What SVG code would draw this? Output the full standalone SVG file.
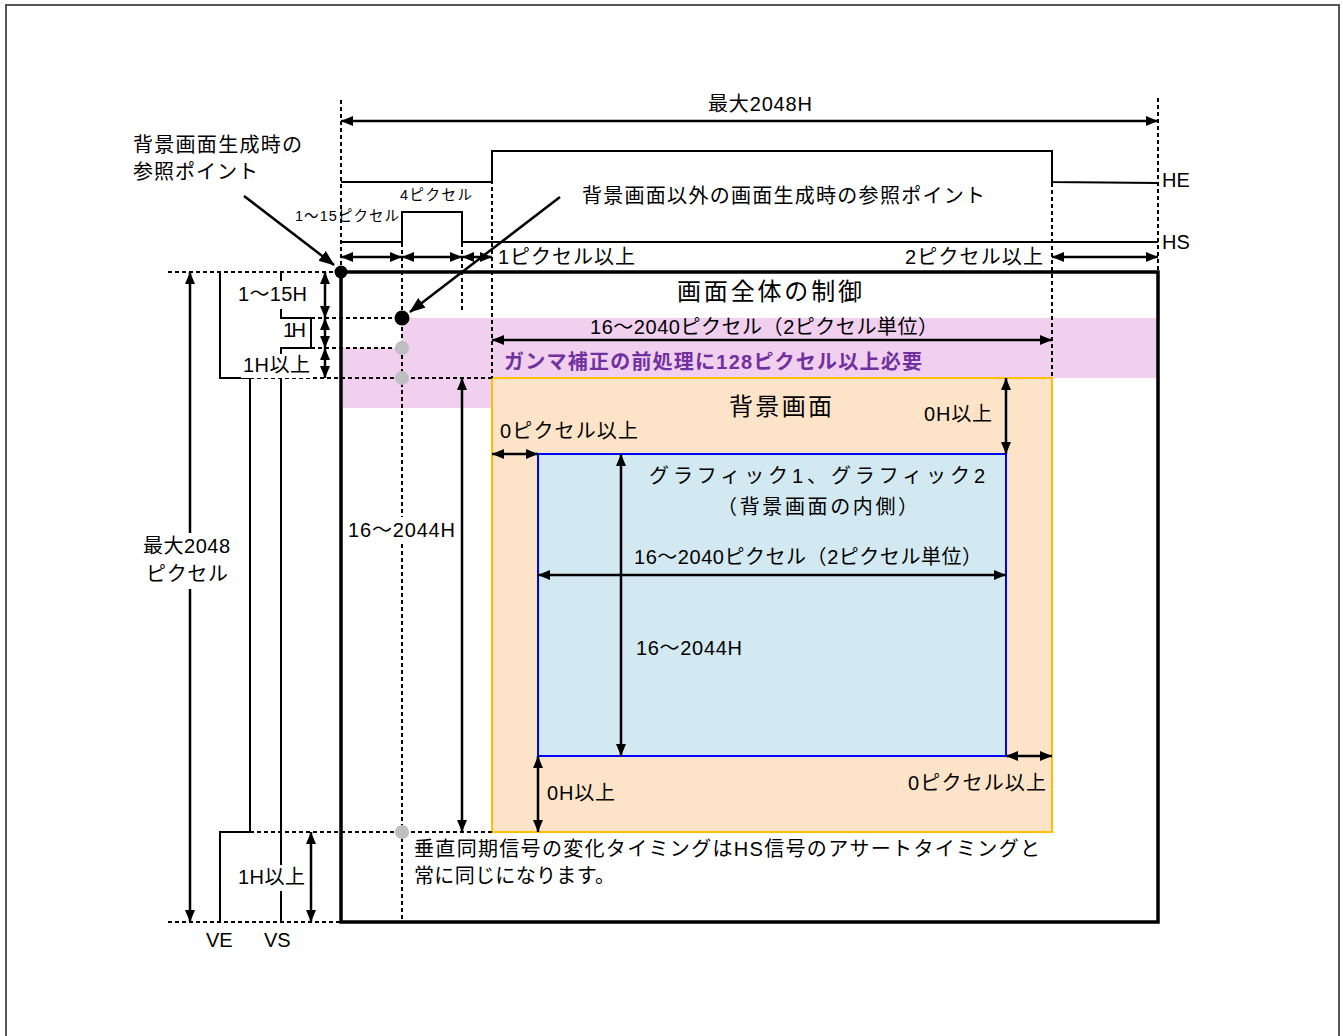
<svg xmlns="http://www.w3.org/2000/svg" width="1343" height="1036" viewBox="0 0 1343 1036">
<style>
text{font-family:"Liberation Sans","Noto Sans CJK JP",sans-serif;font-size:20px;fill:#000}
.s{font-size:14.5px}
.b{font-size:24px}
.g{font-weight:bold;fill:#7030A0;font-size:20px}
.w{stroke:#000;stroke-width:2;fill:none}
.d{stroke:#000;stroke-width:2;stroke-dasharray:4 3;fill:none}
.a{stroke:#000;stroke-width:2.5;fill:none;marker-start:url(#ah);marker-end:url(#ah)}
.p{stroke:#000;stroke-width:2.5;fill:none;marker-end:url(#ap)}
.bg{fill:#fff}
.gd{fill:#BFBFBF}
</style>
<defs>
<marker id="ah" markerUnits="userSpaceOnUse" markerWidth="13" markerHeight="11" refX="12" refY="5" orient="auto-start-reverse"><path d="M0,0 L12,5 L0,10 z" fill="#000"/></marker>
<marker id="ap" markerUnits="userSpaceOnUse" markerWidth="17" markerHeight="13" refX="15" refY="6" orient="auto"><path d="M0,0 L16,6 L0,12 z" fill="#000"/></marker>
</defs>
<rect x="6" y="5" width="1333" height="1040" fill="#fff" stroke="#555" stroke-width="2"/>

<g id="pink-band">
<path d="M402,318 H1158 V378 H492 V408 H343 V348 H402 Z" fill="#F0D0EE"/>
</g>
<g id="background-screen">
<rect x="492" y="378" width="560" height="454" fill="#FDE4C8" stroke="#FFC000" stroke-width="2"/>
</g>
<g id="graphics-screen">
<rect x="538" y="454" width="468" height="302" fill="#D3E9F2" stroke="#0000FF" stroke-width="2"/>
</g>

<g id="guides">
<path class="d" d="M341,100 V272 M1158,98 V272 M492,152 V378 M1052,183 V378 M402,243 V922 M462,243 V310"/>
<path class="d" d="M168,272 H341 M311,318 H402 M311,348 H402 M250,378 H492 M250,832 H492 M168,922 H341"/>
</g>

<g id="waveforms">
<polyline class="w" points="341,182 492,182 492,151 1052,151 1052,182 1158,183"/>
<polyline class="w" points="341,242 402,242 402,212 462,212 462,242 1158,242"/>
<polyline class="w" points="220,272 220,378 250,378 250,832 220,832 220,922"/>
<polyline class="w" points="281,272 281,318 311,318 311,348 281,348 281,922"/>
</g>

<g id="whole-screen">
<rect x="341" y="272" width="817" height="650" fill="none" stroke="#000" stroke-width="3.5"/>
</g>

<g id="connectors">
<line class="a" x1="341" y1="121" x2="1158" y2="121"/>
<line class="a" x1="341" y1="257" x2="402" y2="257"/>
<line class="a" x1="402" y1="257" x2="462" y2="257"/>
<line class="a" x1="462" y1="257" x2="492" y2="257"/>
<line class="a" x1="1052" y1="257" x2="1158" y2="257"/>
<line class="a" x1="492" y1="340" x2="1052" y2="340"/>
<line class="a" x1="325" y1="272" x2="325" y2="318"/>
<line class="a" x1="325" y1="318" x2="325" y2="348"/>
<line class="a" x1="325" y1="348" x2="325" y2="378"/>
<line class="a" x1="190" y1="272" x2="190" y2="922"/>
<line class="a" x1="311" y1="832" x2="311" y2="922"/>
<line class="a" x1="462" y1="378" x2="462" y2="832"/>
<line class="a" x1="1006" y1="378" x2="1006" y2="454"/>
<line class="a" x1="492" y1="454" x2="538" y2="454"/>
<line class="a" x1="621" y1="454" x2="621" y2="756"/>
<line class="a" x1="538" y1="575" x2="1006" y2="575"/>
<line class="a" x1="538" y1="756" x2="538" y2="832"/>
<line class="a" x1="1006" y1="756" x2="1052" y2="756"/>
<line class="p" x1="244" y1="196" x2="334" y2="265"/>
<line class="p" x1="560" y1="197" x2="410" y2="312"/>
</g>

<g id="points">
<circle cx="341" cy="272" r="6.5" fill="#000"/>
<circle cx="402" cy="318" r="7.5" fill="#000"/>
<circle class="gd" cx="402" cy="348" r="7"/>
<circle class="gd" cx="402" cy="378" r="7"/>
<circle class="gd" cx="402" cy="832" r="7"/>
</g>

<g id="labels">
<text x="708" y="111" textLength="104">最大2048H</text>
<text x="133" y="152" textLength="169">背景画面生成時の</text>
<text x="133" y="179" textLength="125">参照ポイント</text>
<text class="s" x="400" y="200" textLength="72">4ピクセル</text>
<text class="s" x="295" y="221" textLength="104">1〜15ピクセル</text>
<text x="582" y="203" textLength="403">背景画面以外の画面生成時の参照ポイント</text>
<text x="1162" y="187">HE</text>
<text x="1162" y="249">HS</text>
<text x="498" y="264" textLength="137">1ピクセル以上</text>
<text x="905" y="264" textLength="138">2ピクセル以上</text>
<text class="b" x="677" y="300" textLength="185">画面全体の制御</text>
<rect class="bg" x="236" y="281" width="73" height="28"/>
<text x="238" y="301" textLength="69">1〜15H</text>
<text x="283" y="337" textLength="23">1H</text>
<rect class="bg" x="241" y="354" width="71" height="24"/>
<text x="243" y="372" textLength="67">1H以上</text>
<text x="590" y="334" textLength="348">16〜2040ピクセル（2ピクセル単位）</text>
<text class="g" x="504" y="369" textLength="418">ガンマ補正の前処理に128ピクセル以上必要</text>
<text class="b" x="729" y="415" textLength="103">背景画面</text>
<text x="924" y="421" textLength="68">0H以上</text>
<text x="500" y="438" textLength="138">0ピクセル以上</text>
<text x="649" y="483" textLength="336">グラフィック1、グラフィック2</text>
<text x="717" y="514" textLength="201">（背景画面の内側）</text>
<rect class="bg" x="140" y="533" width="93" height="56"/>
<text x="143" y="553" textLength="87">最大2048</text>
<text x="146" y="581" textLength="82">ピクセル</text>
<rect class="bg" x="346" y="517" width="111" height="27"/>
<text x="348" y="537" textLength="107">16〜2044H</text>
<text x="634" y="564" textLength="348">16〜2040ピクセル（2ピクセル単位）</text>
<text x="636" y="655" textLength="106">16〜2044H</text>
<text x="547" y="800" textLength="68">0H以上</text>
<text x="908" y="790" textLength="138">0ピクセル以上</text>
<text x="414" y="856" textLength="626">垂直同期信号の変化タイミングはHS信号のアサートタイミングと</text>
<text x="414" y="883" textLength="201">常に同じになります。</text>
<rect class="bg" x="236" y="865" width="71" height="26"/>
<text x="238" y="884" textLength="67">1H以上</text>
<text x="206" y="947">VE</text>
<text x="264" y="947">VS</text>
</g>
</svg>
